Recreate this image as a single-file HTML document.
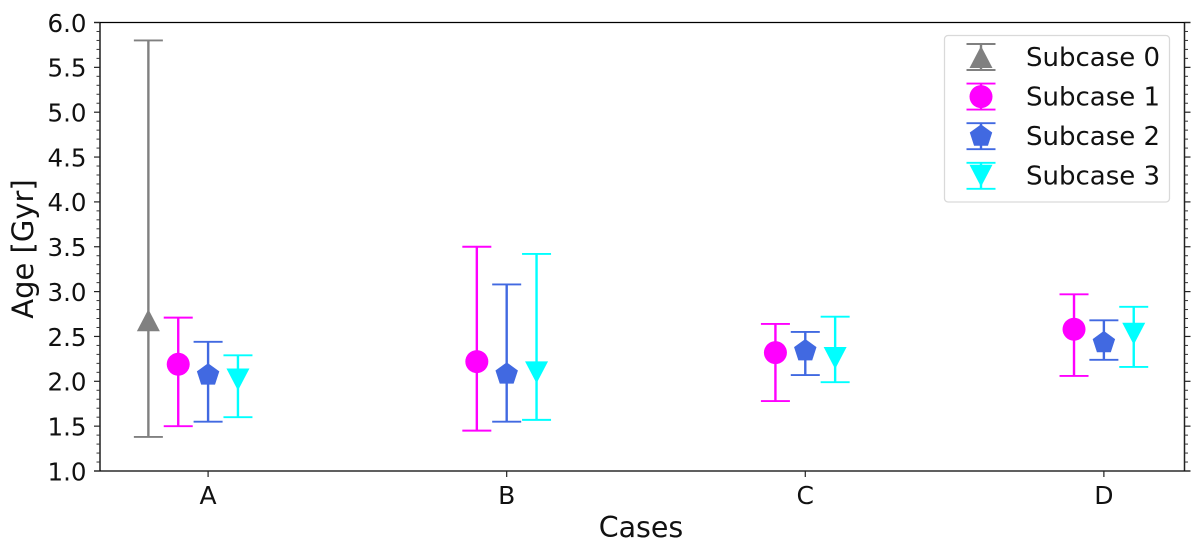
<!DOCTYPE html>
<html lang="en">
<head>
<meta charset="utf-8">
<title>Age by case and subcase</title>
<style>
  html, body { margin: 0; padding: 0; background: #fff; }
  body { width: 1200px; height: 546px; overflow: hidden; }
  svg { display: block; }
  text { font-family: "DejaVu Sans", "Liberation Sans", sans-serif; fill: #111; }
</style>
</head>
<body>
<svg id="chart" xmlns="http://www.w3.org/2000/svg" width="1200" height="546" viewBox="0 0 1200 546">
  <rect x="0" y="0" width="1200" height="546" fill="#fff"/>
  <g id="series-layer"></g>
  <g id="axes-layer"></g>
  <text transform="translate(33,249) rotate(-90)" text-anchor="middle" font-size="29">Age [Gyr]</text>
  <text x="641" y="537" text-anchor="middle" font-size="28.5">Cases</text>
  <g id="legend">
    <rect x="944.5" y="35.5" width="225" height="166.5" rx="3.5" fill="#fff" fill-opacity="0.9" stroke="#d9d9d9" stroke-width="1.3"/>
    <g id="legend-handles"></g>
    <text x="1026" y="66" font-size="26">Subcase 0</text>
    <text x="1026" y="105.500" font-size="26">Subcase 1</text>
    <text x="1026" y="145" font-size="26">Subcase 2</text>
    <text x="1026" y="184.500" font-size="26">Subcase 3</text>
  </g>
</svg>
<script>
const categories = ['A', 'B', 'C', 'D'];
const yTickLabels = ['1.0', '1.5', '2.0', '2.5', '3.0', '3.5', '4.0', '4.5', '5.0', '5.5', '6.0'];

const subcase0Center = [2.68, null, null, null];
const subcase0Lower = [1.38, null, null, null];
const subcase0Upper = [5.80, null, null, null];

const subcase1Center = [2.19, 2.22, 2.32, 2.58];
const subcase1Lower = [1.50, 1.45, 1.78, 2.06];
const subcase1Upper = [2.71, 3.50, 2.64, 2.97];

const subcase2Center = [2.07, 2.08, 2.34, 2.43];
const subcase2Lower = [1.55, 1.55, 2.07, 2.24];
const subcase2Upper = [2.44, 3.08, 2.55, 2.68];

const subcase3Center = [2.02, 2.10, 2.26, 2.53];
const subcase3Lower = [1.60, 1.57, 1.99, 2.16];
const subcase3Upper = [2.29, 3.42, 2.72, 2.83];

const NS = 'http://www.w3.org/2000/svg';
const plot = { left: 100, right: 1184.5, top: 22.5, bottom: 471 };
const xDomain = [-0.362, 3.27];
const yDomain = [1, 6];

function xScale(v) {
  return plot.left + (v - xDomain[0]) / (xDomain[1] - xDomain[0]) * (plot.right - plot.left);
}
function yScale(v) {
  return plot.bottom - (v - yDomain[0]) / (yDomain[1] - yDomain[0]) * (plot.bottom - plot.top);
}
function make(tag, attrs, parent) {
  const el = document.createElementNS(NS, tag);
  for (const k in attrs) el.setAttribute(k, attrs[k]);
  parent.appendChild(el);
  return el;
}
function polyPoints(cx, cy, r, n, startDeg) {
  const pts = [];
  for (let i = 0; i < n; i++) {
    const a = (startDeg + i * 360 / n) * Math.PI / 180;
    pts.push((cx + r * Math.cos(a)).toFixed(2) + ',' + (cy + r * Math.sin(a)).toFixed(2));
  }
  return pts.join(' ');
}
function drawMarker(shape, cx, cy, color, parent) {
  let el;
  if (shape === 'circle') {
    el = make('circle', { cx: cx, cy: cy, r: 11.5, fill: color }, parent);
  } else if (shape === 'pentagon') {
    el = make('polygon', { points: polyPoints(cx, cy, 11.8, 5, -90), fill: color }, parent);
  } else if (shape === 'up') {
    el = make('polygon', { points: (cx - 11.5) + ',' + (cy + 11) + ' ' + (cx + 11.5) + ',' + (cy + 11) + ' ' + cx + ',' + (cy - 11), fill: color }, parent);
  } else {
    el = make('polygon', { points: (cx - 11.5) + ',' + (cy - 11) + ' ' + (cx + 11.5) + ',' + (cy - 11) + ' ' + cx + ',' + (cy + 11), fill: color }, parent);
  }
  
  
}
function drawErrorBar(px, yLow, yHigh, shape, yMid, color, parent) {
  const stem = make('line', { x1: px, x2: px, y1: yHigh, y2: yLow, stroke: color, 'stroke-width': 2.4 }, parent);
  
  
  const capTop = make('line', { x1: px - 14.5, x2: px + 14.5, y1: yHigh, y2: yHigh, stroke: color, 'stroke-width': 1.9 }, parent);
  
  
  const capLow = make('line', { x1: px - 14.5, x2: px + 14.5, y1: yLow, y2: yLow, stroke: color, 'stroke-width': 1.9 }, parent);
  
  
  drawMarker(shape, px, yMid, color, parent);
}

const seriesLayer = document.getElementById('series-layer');
const axesLayer = document.getElementById('axes-layer');
const legendHandles = document.getElementById('legend-handles');

const seriesList = [
  { key: 'subcase-0', center: subcase0Center, lower: subcase0Lower, upper: subcase0Upper, color: '#808080', shape: 'up', slot: -2 },
  { key: 'subcase-1', center: subcase1Center, lower: subcase1Lower, upper: subcase1Upper, color: '#ff00ff', shape: 'circle', slot: -1 },
  { key: 'subcase-2', center: subcase2Center, lower: subcase2Lower, upper: subcase2Upper, color: '#4169e1', shape: 'pentagon', slot: 0 },
  { key: 'subcase-3', center: subcase3Center, lower: subcase3Lower, upper: subcase3Upper, color: '#00ffff', shape: 'down', slot: 1 }
];
const dodge = 0.1;

seriesList.forEach(function (s, si) {
  const g = make('g', {}, seriesLayer);
  
  
  s.center.forEach(function (c, i) {
    if (c === null) return;
    const px = xScale(i + s.slot * dodge);
    drawErrorBar(px, yScale(s.lower[i]), yScale(s.upper[i]), s.shape, yScale(c), s.color, g);
  });
  const h = make('g', {}, legendHandles);
  
  
  const rowY = 57 + si * 39.6;
  drawErrorBar(981, rowY + 13, rowY - 13, s.shape, rowY, s.color, h);
});

/* spines */
const spineLeft = make('line', { x1: plot.left, x2: plot.left, y1: plot.top, y2: plot.bottom, stroke: '#444', 'stroke-width': 1.8 }, axesLayer);


const spineRight = make('line', { x1: plot.right, x2: plot.right, y1: plot.top, y2: plot.bottom, stroke: '#222', 'stroke-width': 1.5 }, axesLayer);


const spineTop = make('line', { x1: plot.left - 6, x2: plot.right + 6, y1: plot.top, y2: plot.top, stroke: '#000', 'stroke-width': 1.3 }, axesLayer);


const spineBottom = make('line', { x1: plot.left - 6, x2: plot.right + 6, y1: plot.bottom, y2: plot.bottom, stroke: '#000', 'stroke-width': 1.3 }, axesLayer);



/* y ticks, both sides, major every label, four minors between */
yTickLabels.forEach(function (label, i) {
  const v = parseFloat(label);
  const py = yScale(v);
  const majorL = make('line', { x1: plot.left - 6, x2: plot.left, y1: py, y2: py, stroke: '#222', 'stroke-width': 1.2 }, axesLayer);
  
  
  const majorR = make('line', { x1: plot.right, x2: plot.right + 6, y1: py, y2: py, stroke: '#222', 'stroke-width': 1.2 }, axesLayer);
  
  
  const t = make('text', { x: plot.left - 13.5, y: py + 9.3, 'text-anchor': 'end', 'font-size': 24.5 }, axesLayer);
  
  
  t.textContent = label;
  if (i < yTickLabels.length - 1) {
    for (let m = 1; m < 5; m++) {
      const my = yScale(v + m * 0.1);
      const minorL = make('line', { x1: plot.left - 3.5, x2: plot.left, y1: my, y2: my, stroke: '#333', 'stroke-width': 1 }, axesLayer);
      
      
      const minorR = make('line', { x1: plot.right, x2: plot.right + 3.5, y1: my, y2: my, stroke: '#333', 'stroke-width': 1 }, axesLayer);
      
      
    }
  }
});

/* x ticks */
categories.forEach(function (c, i) {
  const px = xScale(i);
  const tick = make('line', { x1: px, x2: px, y1: plot.bottom, y2: plot.bottom + 6, stroke: '#222', 'stroke-width': 1.2 }, axesLayer);
  
  
  const t = make('text', { x: px, y: 504, 'text-anchor': 'middle', 'font-size': 25 }, axesLayer);
  
  
  t.textContent = c;
});
</script>
</body>
</html>
